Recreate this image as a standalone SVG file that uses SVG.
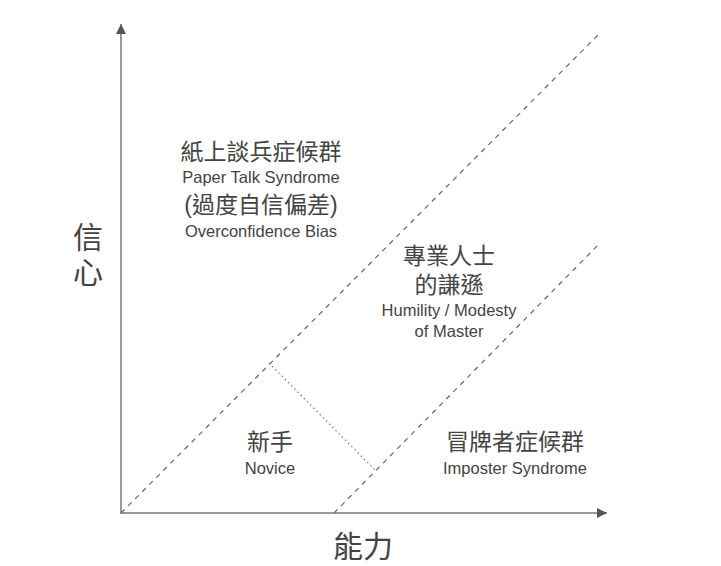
<svg xmlns="http://www.w3.org/2000/svg" width="721" height="566" viewBox="0 0 721 566">
<defs>
<marker id="ar" viewBox="0 0 10 10" refX="10" refY="5" markerWidth="10" markerHeight="10" markerUnits="userSpaceOnUse" orient="auto"><path d="M0,0 L10,5 L0,10 z" fill="#555"/></marker>
<style>
.ax{stroke:#999;stroke-width:2;fill:none}
.d{stroke:#666;stroke-width:1.2;stroke-dasharray:5,5;fill:none}
.dot{stroke:#777;stroke-width:1.2;stroke-dasharray:1.5,3;fill:none}
text{font-family:"Liberation Sans","Noto Sans CJK TC",sans-serif;fill:#444;text-anchor:middle}
.zh{font-size:23px}.en{font-size:16.5px}.big{font-size:30px}
</style>
</defs>
<rect width="721" height="566" fill="#fff"/>
<g id="connectors">
<line class="ax" x1="121" y1="513" x2="121" y2="24" marker-end="url(#ar)"/>
<line class="ax" x1="120" y1="513" x2="607" y2="513" marker-end="url(#ar)"/>
<line class="d" x1="121" y1="513" x2="599" y2="34"/>
<line class="d" x1="334" y1="513" x2="600" y2="243"/>
<line class="dot" x1="269" y1="363" x2="375" y2="470"/>
</g>
<g id="axis-y"><text class="big" x="88" y="248">信</text><text class="big" x="88" y="283">心</text></g>
<g id="axis-x"><text class="big" x="363" y="557">能力</text></g>
<g id="paper"><text class="zh" x="261" y="160">紙上談兵症候群</text><text class="en" x="261" y="183">Paper Talk Syndrome</text><text class="zh" x="261" y="213">(過度自信偏差)</text><text class="en" x="261" y="237">Overconfidence Bias</text></g>
<g id="master"><text class="zh" x="449" y="264">專業人士</text><text class="zh" x="449" y="293">的謙遜</text><text class="en" x="449" y="316">Humility / Modesty</text><text class="en" x="449" y="337">of Master</text></g>
<g id="novice"><text class="zh" x="270" y="450">新手</text><text class="en" x="270" y="474">Novice</text></g>
<g id="imposter"><text class="zh" x="515" y="450">冒牌者症候群</text><text class="en" x="515" y="474">Imposter Syndrome</text></g>
</svg>
